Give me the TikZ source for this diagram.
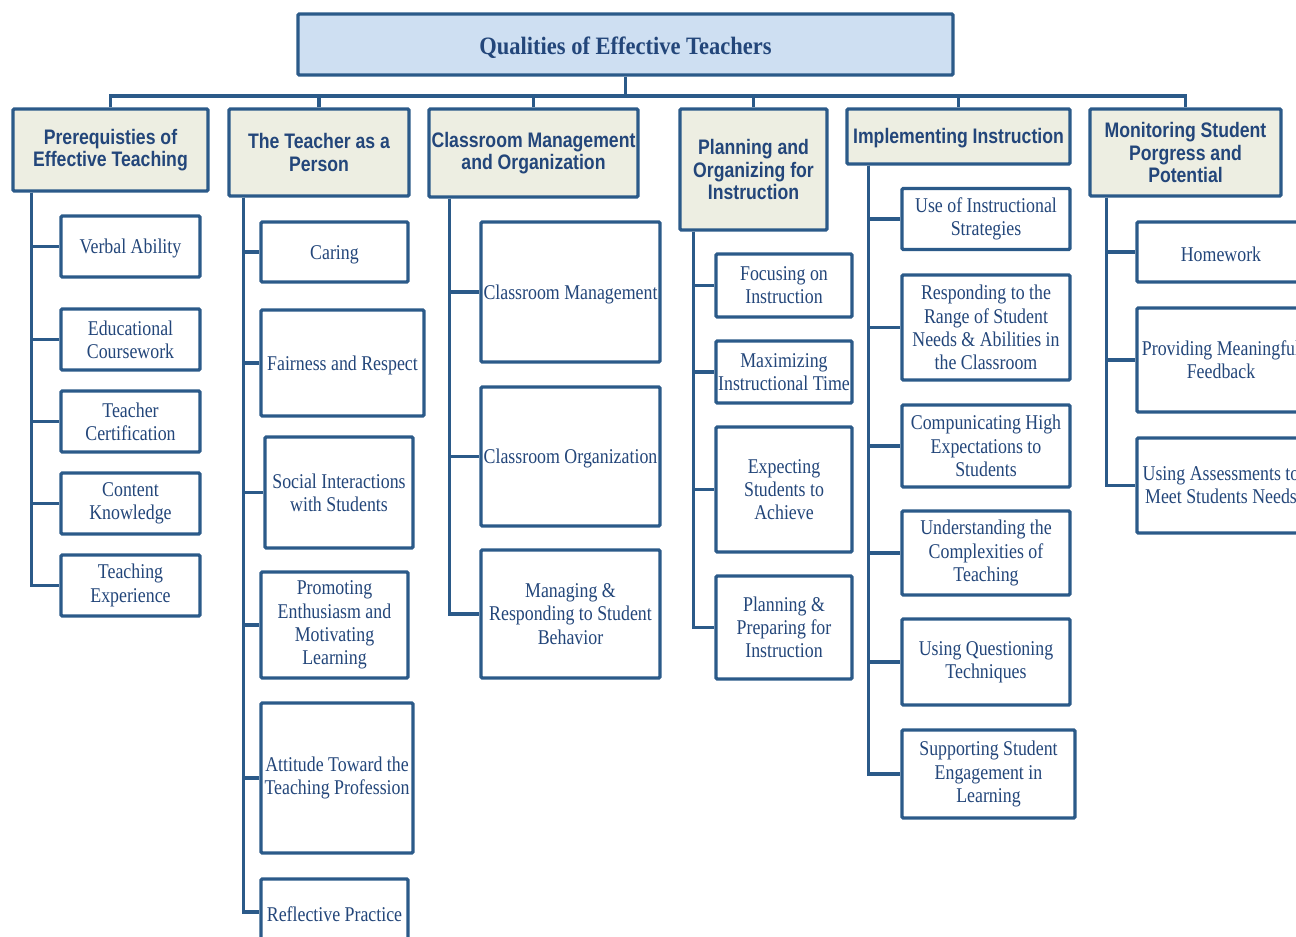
\documentclass[tikz,border=0pt]{standalone}
\usepackage{fontspec}
\setmainfont{Liberation Serif}[FakeStretch=0.85]
\newfontfamily\headfont{Liberation Sans}[FakeStretch=0.84]
\newfontfamily\titlefont{Liberation Serif}[FakeStretch=0.9]
\usetikzlibrary{positioning}
\definecolor{boxline}{HTML}{2B5A89}
\definecolor{boxtext}{HTML}{23467A}
\definecolor{topfill}{HTML}{CEDFF2}
\definecolor{headfill}{HTML}{EDEEE2}

\begin{document}
\begin{tikzpicture}[x=0.5pt, y=-0.5pt,
	every node/.style={align=center, inner sep=0pt, text=boxtext},
	box/.style={draw=boxline, line width=1.7pt, rounded corners=0.6pt},
	top/.style={box, fill=topfill, font=\titlefont\fontsize{12.5}{14}\selectfont\bfseries,
		execute at begin node={\rule{0pt}{12.5pt}}},
	head/.style={box, fill=headfill, font=\headfont\fontsize{10.5}{11.2}\selectfont\bfseries,
		execute at begin node={\rule{0pt}{9.6pt}}},
	leaf/.style={box, fill=white, font=\fontsize{10.5}{11.6}\selectfont,
		execute at begin node={\rule{0pt}{9.6pt}}},
	link/.style={draw=boxline, line width=1.7pt}]
		\clip (0,0) rectangle (1296,937);
		\node[top, minimum width=327.5pt, minimum height=30.5pt] (top) at (625.5,44.5) {Qualities of Effective Teachers};
		\coordinate (bus) at (625.5,96);

		\node[head, minimum width=97.5pt, minimum height=41pt] (prereq) at (110.5,150) {Prerequisties of\\Effective Teaching};
		\node[head, minimum width=90pt, minimum height=43.5pt] (person) at (319,152.5) {The Teacher as a\\Person};
		\node[head, minimum width=104.5pt, minimum height=44pt] (classroom) at (533.5,153) {Classroom Management\\and Organization};
		\node[head, minimum width=73.5pt, minimum height=60.5pt] (planning) at (753.5,169.5) {Planning and\\Organizing for\\Instruction};
		\node[head, minimum width=111.5pt, minimum height=27.5pt] (implementing) at (958.5,136.5) {Implementing Instruction};
		\node[head, minimum width=95.5pt, minimum height=43.5pt] (monitoring) at (1185.5,152.5) {Monitoring Student\\Porgress and\\Potential};

		\node[leaf, minimum width=69.5pt, minimum height=30.5pt] (verbal) at (130.5,246.5) {Verbal Ability};
		\node[leaf, minimum width=69.5pt, minimum height=30.5pt] (coursework) at (130.5,339.5) {Educational\\Coursework};
		\node[leaf, minimum width=69.5pt, minimum height=30.5pt] (certification) at (130.5,421.5) {Teacher\\Certification};
		\node[leaf, minimum width=69.5pt, minimum height=30.5pt] (knowledge) at (130.5,503.5) {Content\\Knowledge};
		\node[leaf, minimum width=69.5pt, minimum height=30.5pt] (experience) at (130.5,585.5) {Teaching\\Experience};

		\node[leaf, minimum width=73.5pt, minimum height=30pt] (caring) at (334.5,252) {Caring};
		\node[leaf, minimum width=81.5pt, minimum height=53pt] (fairness) at (342.5,363) {Fairness and Respect};
		\node[leaf, minimum width=74pt, minimum height=55.5pt] (social) at (339,492.5) {Social Interactions\\with Students};
		\node[leaf, minimum width=73.5pt, minimum height=53pt] (enthusiasm) at (334.5,625) {Promoting\\Enthusiasm and\\Motivating\\Learning};
		\node[leaf, minimum width=76pt, minimum height=75pt] (attitude) at (337,778) {Attitude Toward the\\Teaching Profession};
		\node[leaf, minimum width=73.5pt, minimum height=33pt] (reflective) at (334.5,912) {Reflective Practice};

		\node[leaf, minimum width=89.5pt, minimum height=70pt] (management) at (570.5,292) {Classroom Management};
		\node[leaf, minimum width=89.5pt, minimum height=69.5pt] (organization) at (570.5,456.5) {Classroom Organization};
		\node[leaf, minimum width=89.5pt, minimum height=64pt] (behavior) at (570.5,614) {Managing \&\\Responding to Student\\Behavior};

		\node[leaf, minimum width=68pt, minimum height=31.5pt] (focusing) at (784,285.5) {Focusing on\\Instruction};
		\node[leaf, minimum width=68pt, minimum height=31pt] (maximizing) at (784,372) {Maximizing\\Instructional Time};
		\node[leaf, minimum width=68pt, minimum height=62.5pt] (expecting) at (784,489.5) {Expecting\\Students to\\Achieve};
		\node[leaf, minimum width=68pt, minimum height=51.5pt] (preparing) at (784,627.5) {Planning \&\\Preparing for\\Instruction};

		\node[leaf, minimum width=84pt, minimum height=30.5pt] (strategies) at (986,219) {Use of Instructional\\Strategies};
		\node[leaf, minimum width=84pt, minimum height=52.5pt] (range) at (986,327.5) {Responding to the\\Range of Student\\Needs \& Abilities in\\the Classroom};
		\node[leaf, minimum width=84pt, minimum height=41pt] (expectations) at (986,446) {Compunicating High\\Expectations to\\Students};
		\node[leaf, minimum width=84pt, minimum height=42pt] (complexities) at (986,553) {Understanding the\\Complexities of\\Teaching};
		\node[leaf, minimum width=84pt, minimum height=43pt] (questioning) at (986,662) {Using Questioning\\Techniques};
		\node[leaf, minimum width=86.5pt, minimum height=44pt] (engagement) at (988.5,774) {Supporting Student\\Engagement in\\Learning};

		\node[leaf, minimum width=84pt, minimum height=30pt] (homework) at (1221,252) {Homework};
		\node[leaf, minimum width=84pt, minimum height=52pt] (feedback) at (1221,360) {Providing Meaningful\\Feedback};
		\node[leaf, minimum width=84pt, minimum height=47.5pt] (assessments) at (1221,485.5) {Using Assessments to\\Meet Students Needs};

		\draw[link] (top.south) -- (bus);
		\foreach \h in {prereq, person, classroom, planning, implementing, monitoring}
			\draw[link] (\h.north) |- (bus);

		\foreach \k in {verbal, coursework, certification, knowledge, experience}
			\draw[link] ([xshift=10pt]prereq.south west) |- (\k.west);
		\foreach \k in {caring, fairness, social, enthusiasm, attitude, reflective}
			\draw[link] ([xshift=8pt]person.south west) |- (\k.west);
		\foreach \k in {management, organization, behavior}
			\draw[link] ([xshift=11pt]classroom.south west) |- (\k.west);
		\foreach \k in {focusing, maximizing, expecting, preparing}
			\draw[link] ([xshift=7.5pt]planning.south west) |- (\k.west);
		\foreach \k in {strategies, range, expectations, complexities, questioning, engagement}
			\draw[link] ([xshift=11.5pt]implementing.south west) |- (\k.west);
		\foreach \k in {homework, feedback, assessments}
			\draw[link] ([xshift=9pt]monitoring.south west) |- (\k.west);
	\end{tikzpicture}
\end{document}
